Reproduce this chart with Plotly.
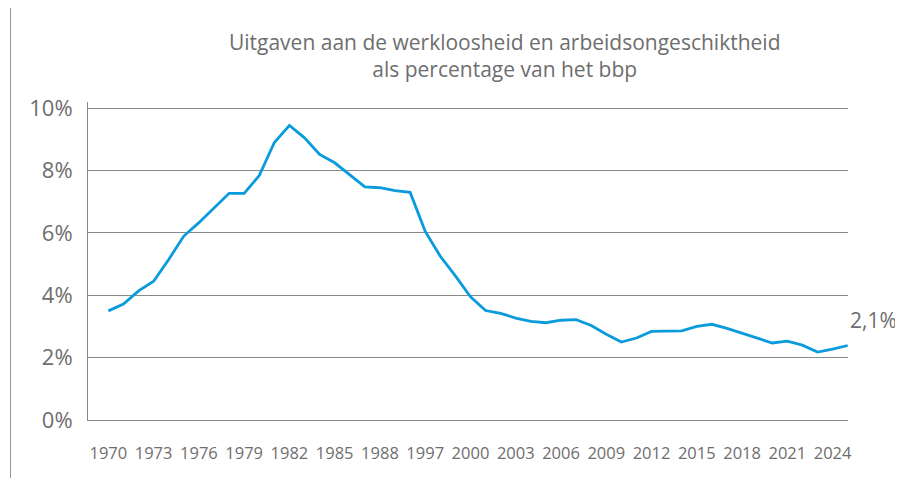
import plotly.graph_objs as go

# jaren (categorieen) en uitgaven als % van het bbp
years = [str(y) for y in range(1970, 1991)] + [str(y) for y in range(1997, 2026)]
values = [3.50, 3.72, 4.14, 4.45, 5.15, 5.90, 6.33, 6.79, 7.27, 7.27,
          7.84, 8.90, 9.45, 9.05, 8.52, 8.25, 7.88, 7.48, 7.45, 7.36,
          7.30, 6.05, 5.25, 4.62, 3.95, 3.51, 3.42, 3.27, 3.16, 3.12,
          3.20, 3.22, 3.03, 2.75, 2.50, 2.63, 2.84, 2.85, 2.86, 3.00,
          3.07, 2.94, 2.78, 2.61, 2.47, 2.53, 2.40, 2.18, 2.27, 2.39]
tick_years = years[::3]
y_ticks = [0, 2, 4, 6, 8, 10]
y_ticktext = [f"{v}%" for v in y_ticks]
end_label = "2,1%"

title = ("Uitgaven aan de werkloosheid en arbeidsongeschiktheid"
         "<br>als percentage van het bbp")

blue = "#0a9bdc"
grey_text = "#6e6e6e"
grid = "#8a8a8a"

fig = go.Figure()
fig.add_trace(go.Scatter(
    x=years,
    y=values,
    mode='lines',
    line=dict(color=blue, width=2.8),
    hoverinfo='x+y'
))

# the page body has an 8px margin, so the figure is a bit smaller than the window
fig.update_layout(
    width=895,
    height=470,
    margin=dict(l=80, r=55, t=94, b=58),
    paper_bgcolor='white',
    plot_bgcolor='white',
    showlegend=False,
    font=dict(family="Open Sans", color=grey_text),
    title=dict(
        text=title,
        x=0.555, xanchor='center',
        y=0.911, yanchor='middle',
        font=dict(size=21, color=grey_text)
    )
)

fig.update_xaxes(
    type='category',
    range=[-1.35, 49.02],
    tickmode='array',
    tickvals=tick_years,
    ticktext=tick_years,
    tickfont=dict(size=16.5, color=grey_text),
    ticklabelstandoff=18,
    showgrid=False,
    showline=True,
    linecolor=grid,
    linewidth=1,
    ticks='',
    zeroline=False
)

fig.update_yaxes(
    range=[0, 10.2],
    tickmode='array',
    tickvals=y_ticks,
    ticktext=y_ticktext,
    tickfont=dict(size=22, color=grey_text),
    ticklabelstandoff=10,
    showgrid=True,
    gridcolor=grid,
    gridwidth=1,
    showline=True,
    linecolor=grid,
    linewidth=1,
    ticks='',
    zeroline=False
)

fig.add_annotation(
    text=end_label,
    xref='paper', yref='y',
    x=1.0, y=3.2,
    xanchor='left', yanchor='middle',
    showarrow=False,
    font=dict(size=21, color=grey_text)
)

# dunne lijn links van de grafiek (kader)
fig.add_shape(
    type='line', xref='paper', yref='paper',
    x0=-0.102, x1=-0.102, y0=-0.19, y1=1.33,
    line=dict(color="#9a9a9a", width=1)
)

fig.write_html("out.html")
